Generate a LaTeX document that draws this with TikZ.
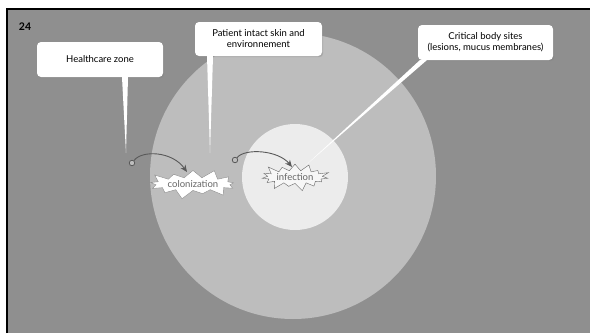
\documentclass[tikz,border=0pt]{standalone}
\usepackage{fontspec}
\setmainfont{Lato}
\usetikzlibrary{shapes.symbols,shadows,arrows.meta}
\definecolor{bggray}{HTML}{8F8F8F}
\definecolor{ringgray}{HTML}{BDBDBD}
\definecolor{coregray}{HTML}{ECECEC}
\begin{document}
\begin{tikzpicture}[x=1pt,y=-1pt,
  callout/.style={fill=white,rounded corners=4pt,align=center,inner sep=0pt,
    font=\fontsize{9.5}{11}\selectfont,
    drop shadow={opacity=0.35,shadow xshift=1.2pt,shadow yshift=-1.2pt}},
  pointer/.style={fill=white},
  burst/.style={starburst,starburst points=13,starburst point height=9pt,
    font=\fontsize{9.5}{10}\selectfont,text=black!60,draw=black!45,fill=white,inner sep=1pt},
  flow/.style={draw=black!65,line width=0.9pt,-{Stealth[length=7pt,width=6pt]}},
  dot/.style={circle,draw=black!65,line width=0.8pt,fill=ringgray,minimum size=5.5pt,inner sep=0pt}]
    \useasboundingbox (0,0) rectangle (590,333);
    \fill[white] (0,0) rectangle (590,333);
    \fill[bggray] (8,10) rectangle (590,333);
    \draw[line width=2pt] (7,333) -- (7,9) -- (590,9);
    \node[font=\bfseries\fontsize{10.5}{12}\selectfont] (num) at (25,27) {24};

    \fill[ringgray] (293,176) circle (143);
    \fill[coregray] (295,177) circle (53);

    \node[callout,minimum width=126pt,minimum height=35pt] (hz) at (100,59.5) {Healthcare zone};
    \node[callout,minimum width=127pt,minimum height=34pt] (skin) at (258.5,39) {Patient intact skin and\\environnement};
    \node[callout,minimum width=135pt,minimum height=35pt] (sites) at (485.5,42.5) {Critical body sites\\(lesions, mucus membranes)};

    \coordinate (hz tip) at (126,153);
    \coordinate (skin tip) at (210,153);
    \coordinate (sites tip) at (306,165);
    \fill[pointer] ([xshift=22pt]hz.south) -- (hz tip) -- ([xshift=28pt]hz.south) -- cycle;
    \fill[pointer] ([xshift=-51.5pt]skin.south) -- (skin tip) -- ([xshift=-45.5pt]skin.south) -- cycle;
    \fill[pointer] ([xshift=2pt]sites.south west) -- (sites tip) -- ([xshift=9pt]sites.south west) -- cycle;

    \node[burst,starburst point height=10pt,minimum width=66pt,minimum height=18pt] (col) at (193,184) {colonization};
    \node[burst,starburst points=15,minimum width=50pt,minimum height=16pt,draw=black!60,fill=black!3] (inf) at (295,177) {infection};

    \node[dot] (hz dot) at (132,163) {};
    \node[dot] (skin dot) at (235,160) {};
    \coordinate (col in) at (187,172);
    \coordinate (inf in) at (292,167);
    \draw[flow] (hz dot) .. controls (142,150) and (172,151) .. (col in);
    \draw[flow] (skin dot) .. controls (245,148) and (278,150) .. (inf in);
\end{tikzpicture}
\end{document}
